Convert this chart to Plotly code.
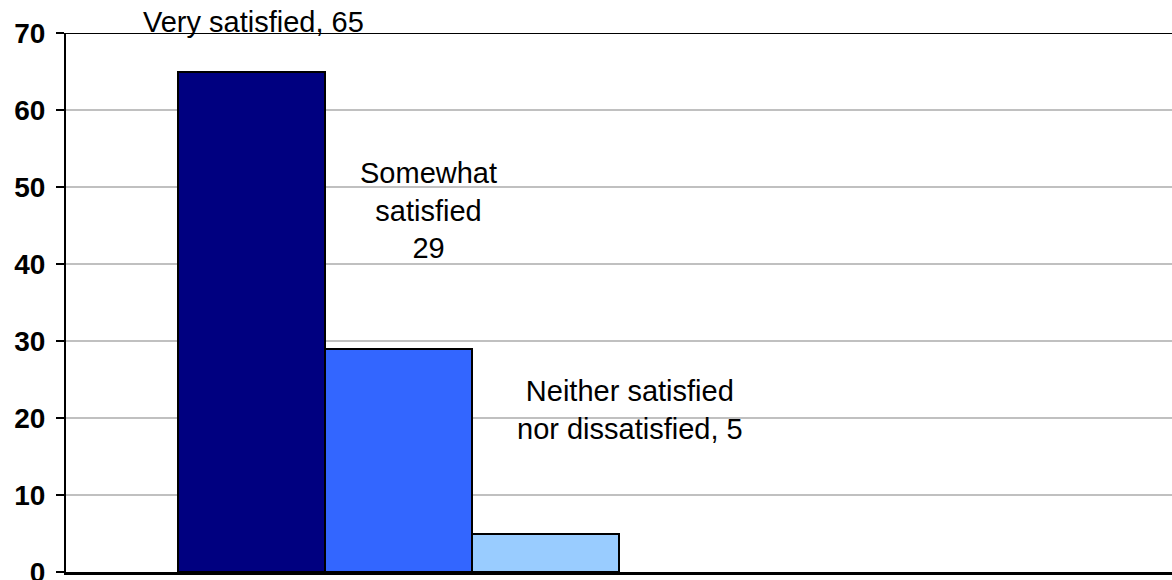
import plotly.graph_objects as go

# Data
categories = ["Very satisfied", "Somewhat satisfied", "Neither satisfied nor dissatisfied"]
values = [65, 29, 5]
label_texts = [
    f"Very satisfied, {values[0]}",
    f"Somewhat<br>satisfied<br>{values[1]}",
    f"Neither satisfied<br>nor dissatisfied, {values[2]}",
]
y_ticks = [0, 10, 20, 30, 40, 50, 60, 70]

colors = ["#000080", "#3366FF", "#99CCFF"]
FONT = "Arial, Liberation Sans, sans-serif"

positions = [1, 2, 3]

fig = go.Figure()
fig.add_trace(go.Bar(
    x=positions,
    y=values,
    width=1,
    marker=dict(color=colors, line=dict(color="black", width=2)),
    hoverinfo="skip",
    showlegend=False,
))

# Label placement (offsets in px / data units)
label_cfg = [
    dict(y=70, yshift=11, xshift=2),
    dict(y=values[1] + 18, yshift=0, xshift=30),
    dict(y=values[2] + 16, yshift=0, xshift=85),
]
for pos, txt, cfg in zip(positions, label_texts, label_cfg):
    fig.add_annotation(
        x=pos, y=cfg["y"], text=txt, showarrow=False,
        xanchor="center", yanchor="middle",
        xshift=cfg["xshift"], yshift=cfg["yshift"],
        font=dict(family=FONT, size=29, color="black"),
        align="center",
    )

# Top border line
fig.add_shape(type="line", xref="paper", yref="y", x0=0, x1=1, y0=70, y1=70,
              line=dict(color="black", width=2))

fig.update_layout(
    width=1172, height=580,
    margin=dict(l=66, r=0, t=33, b=8, autoexpand=False),
    paper_bgcolor="white", plot_bgcolor="white",
    bargap=0,
    xaxis=dict(
        range=[-0.2619, 7.262],
        showgrid=False, zeroline=False,
        showticklabels=False, ticks="",
        showline=True, linecolor="black", linewidth=3,
        automargin=False,
        fixedrange=True,
    ),
    yaxis=dict(
        range=[0, 70],
        tickvals=y_ticks,
        ticktext=[str(t) for t in y_ticks],
        showgrid=True, gridcolor="#C0C0C0", gridwidth=2,
        zeroline=False,
        showline=True, linecolor="black", linewidth=2,
        ticks="outside", ticklen=8, tickwidth=2, tickcolor="black",
        ticklabelstandoff=5,
        ticklabeloverflow="allow",
        automargin=False,
        tickfont=dict(family=FONT, size=28, color="black", weight="bold"),
        fixedrange=True,
    ),
)

fig.write_html("out.html")
